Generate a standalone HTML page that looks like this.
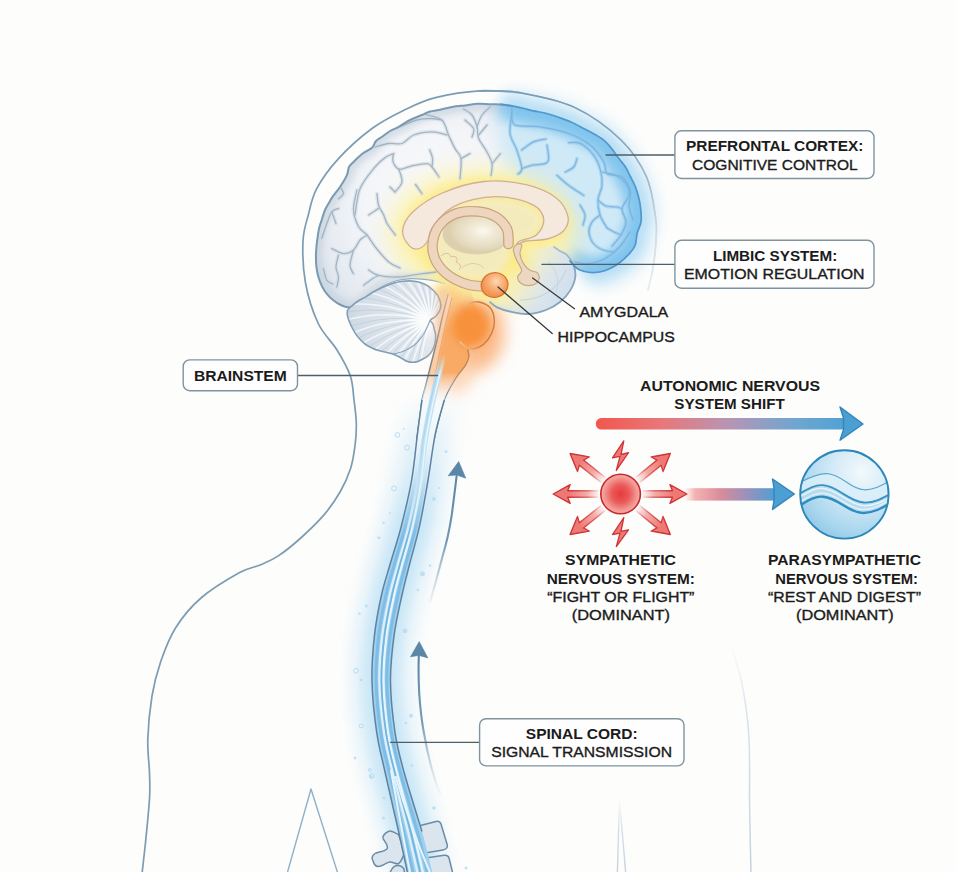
<!DOCTYPE html>
<html>
<head>
<meta charset="utf-8">
<title>Brain and Autonomic Nervous System</title>
<style>
  html, body { margin: 0; padding: 0; background: #fdfdfc; }
  body { width: 956px; height: 872px; overflow: hidden; font-family: "Liberation Sans", sans-serif; }
  svg { display: block; }
  text { font-family: "Liberation Sans", sans-serif; fill: #1b1b1b; }
  .b { font-weight: bold; }
  .r { stroke: #1b1b1b; stroke-width: 0.35px; }
</style>
</head>
<body>
<svg width="956" height="872" viewBox="0 0 956 872">
<defs>
<filter id="blur1" x="-100%" y="-100%" width="300%" height="300%"><feGaussianBlur stdDeviation="1"/></filter>
<filter id="blur2" x="-100%" y="-100%" width="300%" height="300%"><feGaussianBlur stdDeviation="2"/></filter>
<filter id="blur3" x="-100%" y="-100%" width="300%" height="300%"><feGaussianBlur stdDeviation="3"/></filter>
<filter id="blur4" x="-100%" y="-100%" width="300%" height="300%"><feGaussianBlur stdDeviation="4"/></filter>
<filter id="blur5" x="-100%" y="-100%" width="300%" height="300%"><feGaussianBlur stdDeviation="5"/></filter>
<filter id="blur6" x="-100%" y="-100%" width="300%" height="300%"><feGaussianBlur stdDeviation="6"/></filter>
<filter id="blur8" x="-100%" y="-100%" width="300%" height="300%"><feGaussianBlur stdDeviation="8"/></filter>
<filter id="blur10" x="-100%" y="-100%" width="300%" height="300%"><feGaussianBlur stdDeviation="10"/></filter>
<filter id="blur12" x="-100%" y="-100%" width="300%" height="300%"><feGaussianBlur stdDeviation="12"/></filter>
<linearGradient id="headFade" gradientUnits="userSpaceOnUse" x1="560" y1="100" x2="680" y2="280">
  <stop offset="0" stop-color="#7b9cb3"/><stop offset="0.35" stop-color="#8aa8bf"/><stop offset="0.55" stop-color="#a5bbcc"/><stop offset="0.75" stop-color="#cfdae3"/><stop offset="1" stop-color="#eef2f5"/></linearGradient>
<linearGradient id="gFaintR" gradientUnits="userSpaceOnUse" x1="0" y1="640" x2="0" y2="872"><stop offset="0" stop-color="#dfe8ee" stop-opacity="0"/><stop offset="0.3" stop-color="#d9e3eb"/><stop offset="1" stop-color="#c3d3df"/></linearGradient>
<linearGradient id="gFaintV" gradientUnits="userSpaceOnUse" x1="0" y1="798" x2="0" y2="872"><stop offset="0" stop-color="#dfe8ee" stop-opacity="0"/><stop offset="0.4" stop-color="#d5e1ea"/><stop offset="1" stop-color="#c3d3df"/></linearGradient>
<linearGradient id="gM2" gradientUnits="userSpaceOnUse" x1="0" y1="395" x2="0" y2="540"><stop offset="0" stop-color="#fff" stop-opacity="0"/><stop offset="0.35" stop-color="#fff" stop-opacity="0.3"/><stop offset="0.7" stop-color="#fff" stop-opacity="0.8"/><stop offset="1" stop-color="#fff" stop-opacity="1"/></linearGradient>
<mask id="mCordBlue" maskUnits="userSpaceOnUse" x="300" y="340" width="220" height="540"><rect x="300" y="340" width="220" height="540" fill="url(#gM2)"/></mask>
<linearGradient id="gM3" gradientUnits="userSpaceOnUse" x1="0" y1="392" x2="0" y2="520"><stop offset="0" stop-color="#fff" stop-opacity="0"/><stop offset="0.4" stop-color="#fff" stop-opacity="0.5"/><stop offset="1" stop-color="#fff" stop-opacity="1"/></linearGradient>
<mask id="mGlow" maskUnits="userSpaceOnUse" x="280" y="340" width="260" height="540"><rect x="280" y="340" width="260" height="540" fill="url(#gM3)"/></mask>
<linearGradient id="gArrU" gradientUnits="userSpaceOnUse" x1="0" y1="470" x2="0" y2="610">
  <stop offset="0" stop-color="#5b86a6"/><stop offset="0.5" stop-color="#6f95b2"/><stop offset="1" stop-color="#9fb8cc" stop-opacity="0"/></linearGradient>
<linearGradient id="gArrL" gradientUnits="userSpaceOnUse" x1="0" y1="650" x2="0" y2="800">
  <stop offset="0" stop-color="#5b86a6"/><stop offset="0.5" stop-color="#7a9cb6"/><stop offset="1" stop-color="#b5c8d8" stop-opacity="0"/></linearGradient>
<linearGradient id="gM1" gradientUnits="userSpaceOnUse" x1="0" y1="372" x2="0" y2="532"><stop offset="0" stop-color="#fff" stop-opacity="0"/><stop offset="0.2" stop-color="#fff" stop-opacity="1"/><stop offset="0.4" stop-color="#fff" stop-opacity="0.9"/><stop offset="1" stop-color="#fff" stop-opacity="0"/></linearGradient>
<mask id="mCordPale" maskUnits="userSpaceOnUse" x="300" y="340" width="220" height="540"><rect x="300" y="340" width="220" height="540" fill="url(#gM1)"/></mask>
<linearGradient id="gM4" gradientUnits="userSpaceOnUse" x1="0" y1="354" x2="0" y2="544"><stop offset="0" stop-color="#fff" stop-opacity="0"/><stop offset="0.115" stop-color="#fff" stop-opacity="1"/><stop offset="0.5" stop-color="#fff" stop-opacity="0.9"/><stop offset="1" stop-color="#fff" stop-opacity="0"/></linearGradient>
<mask id="mStripe" maskUnits="userSpaceOnUse" x="300" y="340" width="220" height="540"><rect x="300" y="340" width="220" height="540" fill="url(#gM4)"/></mask>
<path id="pCere" d="M355.0 307.0 C351.1 307.8 346.5 307.7 341.8 305.5 C337.1 303.3 330.7 298.6 326.8 293.8 C322.9 289.1 320.2 283.1 318.4 277.0 C316.6 270.9 315.9 264.5 315.9 257.0 C315.9 249.5 317.4 238.1 318.4 231.8 C319.4 225.5 320.9 222.6 322.0 219.0 C323.1 215.4 323.7 213.0 325.0 210.0 C326.3 207.0 328.6 203.4 330.0 201.0 C331.4 198.6 331.8 197.7 333.5 195.4 C335.2 193.1 337.8 190.3 340.0 187.0 C342.2 183.7 345.3 178.6 346.8 175.3 C348.3 172.0 347.9 169.2 349.0 167.0 C350.1 164.8 351.3 164.2 353.5 162.0 C355.7 159.8 358.9 156.4 362.0 154.0 C365.1 151.6 369.7 149.9 372.0 147.7 C374.3 145.5 374.3 142.8 376.0 141.0 C377.7 139.2 379.7 138.5 382.0 136.8 C384.3 135.1 387.2 132.7 390.0 131.0 C392.8 129.3 395.4 128.6 398.7 126.8 C402.0 125.0 406.1 122.0 410.0 120.0 C413.9 118.0 418.7 116.4 422.0 115.0 C425.3 113.6 427.2 112.3 430.0 111.5 C432.8 110.7 435.3 110.8 439.0 110.0 C442.7 109.2 447.7 107.8 452.0 107.0 C456.3 106.2 460.7 105.9 465.0 105.4 C469.3 104.9 473.8 104.0 478.0 103.8 C482.2 103.6 486.2 104.1 490.0 104.2 C493.8 104.3 497.4 104.1 501.0 104.4 C504.6 104.7 508.3 105.3 511.8 105.9 C515.3 106.5 518.4 107.2 522.0 108.0 C525.6 108.8 529.7 110.1 533.5 110.9 C537.3 111.7 541.1 112.0 545.0 113.0 C548.9 114.0 552.7 115.3 557.0 116.8 C561.3 118.3 566.5 120.0 571.0 122.0 C575.5 124.0 579.9 126.5 583.7 128.5 C587.5 130.5 590.6 132.1 594.0 134.0 C597.4 135.9 600.8 137.7 603.8 140.2 C606.8 142.7 609.5 145.9 612.0 149.0 C614.5 152.1 616.6 155.6 618.9 158.6 C621.1 161.6 623.5 163.9 625.5 167.0 C627.5 170.1 628.9 173.7 630.6 177.0 C632.3 180.3 634.1 183.4 635.5 187.0 C636.9 190.6 638.1 195.0 639.0 198.8 C639.9 202.6 640.5 206.1 640.8 210.0 C641.1 213.9 641.6 218.2 641.0 222.0 C640.4 225.8 638.2 229.1 637.2 233.0 C636.2 236.9 636.4 242.2 635.0 245.7 C633.6 249.2 631.4 251.3 629.0 254.0 C626.6 256.7 623.3 259.8 620.5 262.0 C617.7 264.2 614.8 266.0 612.0 267.5 C609.2 269.0 606.6 270.2 603.8 271.0 C601.0 271.8 597.8 272.3 595.0 272.5 C592.2 272.7 589.5 272.4 587.0 272.0 C584.5 271.6 582.0 270.8 580.0 270.0 C578.0 269.2 576.0 266.7 575.3 267.0 C574.6 267.3 576.0 270.3 576.0 272.0 C576.0 273.7 576.2 273.9 575.3 277.0 C574.3 280.1 572.8 286.2 570.3 290.4 C567.8 294.6 564.0 298.7 560.0 302.0 C556.0 305.3 551.3 308.0 546.0 310.0 C540.7 312.0 534.0 313.8 528.0 314.0 C522.0 314.2 515.2 312.7 510.0 311.5 C504.8 310.3 500.7 308.8 497.0 307.0 C493.3 305.2 492.5 302.7 488.0 301.0 C483.5 299.3 475.5 298.5 470.0 297.0 C464.5 295.5 459.3 294.2 455.0 292.0 C450.7 289.8 447.8 285.6 444.0 283.7 C440.2 281.8 437.3 281.2 432.0 280.4 C426.7 279.6 418.1 278.6 412.0 278.7 C405.9 278.8 401.0 279.3 395.4 281.0 C389.8 282.7 383.7 285.4 378.6 288.7 C373.5 291.9 368.9 297.4 365.0 300.5 C361.1 303.6 358.9 306.2 355.0 307.0Z"/>
<path id="pCereb" d="M347.6 310.2 C348.3 308.8 349.6 307.9 351.3 306.4 C353.0 304.9 355.5 302.7 358.0 301.0 C360.5 299.3 363.6 298.1 366.4 296.4 C369.2 294.7 371.9 292.7 375.0 291.0 C378.1 289.3 382.0 287.6 385.2 286.3 C388.4 285.0 391.1 283.8 394.0 283.0 C396.9 282.2 399.8 281.6 402.8 281.3 C405.8 281.0 409.1 280.8 412.0 281.0 C414.9 281.2 417.7 281.8 420.4 282.6 C423.1 283.4 425.7 284.6 428.0 286.0 C430.3 287.4 432.4 289.5 434.2 291.3 C435.9 293.1 437.5 295.1 438.5 297.0 C439.5 298.9 440.0 300.9 440.4 302.6 C440.8 304.3 441.0 305.5 440.8 307.0 C440.6 308.5 440.1 309.8 439.2 311.4 C438.3 313.0 437.0 315.0 435.5 316.5 C434.0 318.0 430.8 318.9 430.4 320.2 C430.0 321.4 432.4 322.5 433.0 324.0 C433.6 325.5 433.8 327.2 434.2 329.0 C434.6 330.8 435.4 332.6 435.6 334.5 C435.8 336.4 435.6 338.4 435.4 340.3 C435.2 342.2 434.8 344.1 434.2 346.0 C433.6 347.9 432.6 350.0 431.6 351.6 C430.6 353.2 429.4 354.6 428.0 355.8 C426.6 357.0 424.6 358.1 422.9 359.0 C421.2 359.9 419.7 360.9 418.0 361.5 C416.3 362.1 414.6 362.3 412.8 362.3 C411.1 362.3 409.2 362.1 407.5 361.5 C405.8 360.9 404.4 359.9 402.8 359.0 C401.2 358.1 399.7 357.1 398.0 356.3 C396.3 355.5 394.9 354.7 392.7 354.0 C390.5 353.3 387.5 352.6 385.0 352.0 C382.5 351.4 380.0 351.1 377.7 350.3 C375.4 349.6 373.1 348.6 371.0 347.5 C368.9 346.4 366.9 345.4 365.0 344.0 C363.1 342.6 361.2 340.7 359.5 338.8 C357.8 336.9 356.3 334.9 355.0 332.8 C353.7 330.8 352.5 328.6 351.5 326.5 C350.5 324.4 349.5 322.1 348.8 320.2 C348.1 318.3 347.5 316.7 347.3 315.0 C347.1 313.3 346.9 311.6 347.6 310.2Z"/>
<path id="pTemp" d="M552.0 246.0 C557.3 245.8 554.5 247.1 557.0 248.6 C559.5 250.1 564.2 252.2 567.0 255.0 C569.8 257.8 572.2 261.6 573.6 265.3 C575.0 269.0 575.8 272.8 575.3 277.0 C574.8 281.2 572.8 286.2 570.3 290.4 C567.8 294.6 564.0 298.7 560.0 302.0 C556.0 305.3 551.3 308.0 546.0 310.0 C540.7 312.0 534.0 313.8 528.0 314.0 C522.0 314.2 515.2 312.7 510.0 311.5 C504.8 310.3 500.7 308.9 497.0 307.0 C493.3 305.1 489.8 304.5 488.0 300.0 C486.2 295.5 484.0 286.3 486.0 280.0 C488.0 273.7 493.5 267.0 500.0 262.0 C506.5 257.0 516.3 252.7 525.0 250.0 C533.7 247.3 546.7 246.2 552.0 246.0Z"/>
<path id="pOutBlue" d="M501.0 104.4 C502.8 104.7 508.3 105.3 511.8 105.9 C515.3 106.5 518.4 107.2 522.0 108.0 C525.6 108.8 529.7 110.1 533.5 110.9 C537.3 111.7 541.1 112.0 545.0 113.0 C548.9 114.0 552.7 115.3 557.0 116.8 C561.3 118.3 566.5 120.0 571.0 122.0 C575.5 124.0 579.9 126.5 583.7 128.5 C587.5 130.5 590.6 132.1 594.0 134.0 C597.4 135.9 600.8 137.7 603.8 140.2 C606.8 142.7 609.5 145.9 612.0 149.0 C614.5 152.1 616.6 155.6 618.9 158.6 C621.1 161.6 623.5 163.9 625.5 167.0 C627.5 170.1 628.9 173.7 630.6 177.0 C632.3 180.3 634.1 183.4 635.5 187.0 C636.9 190.6 638.1 195.0 639.0 198.8 C639.9 202.6 640.5 206.1 640.8 210.0 C641.1 213.9 641.6 218.2 641.0 222.0 C640.4 225.8 638.2 229.1 637.2 233.0 C636.2 236.9 636.4 242.2 635.0 245.7 C633.6 249.2 631.4 251.3 629.0 254.0 C626.6 256.7 623.3 259.8 620.5 262.0 C617.7 264.2 614.8 266.0 612.0 267.5 C609.2 269.0 606.6 270.2 603.8 271.0 C601.0 271.8 597.8 272.3 595.0 272.5 C592.2 272.7 589.5 272.4 587.0 272.0 C584.5 271.6 582.0 270.8 580.0 270.0 C578.0 269.2 577.0 268.5 575.3 267.0 C573.6 265.5 570.9 262.0 570.0 261.0"/>
<clipPath id="cCere"><use href="#pCere"/></clipPath>
<clipPath id="cCereb"><use href="#pCereb"/></clipPath>
<clipPath id="cTemp"><use href="#pTemp"/></clipPath>
<radialGradient id="gCere" gradientUnits="userSpaceOnUse" cx="440" cy="205" r="150">
  <stop offset="0" stop-color="#fafbfc"/><stop offset="0.5" stop-color="#f3f5f8"/><stop offset="0.8" stop-color="#e6ebf1"/><stop offset="1" stop-color="#d5dee7"/></radialGradient>
<radialGradient id="gCereb" gradientUnits="userSpaceOnUse" cx="428" cy="320" r="85">
  <stop offset="0" stop-color="#f0f4f7"/><stop offset="0.35" stop-color="#e0e7ee"/><stop offset="0.8" stop-color="#d3dde7"/><stop offset="1" stop-color="#c8d5e0"/></radialGradient>
<radialGradient id="gThal" gradientUnits="userSpaceOnUse" cx="483" cy="231" r="34" gradientTransform="translate(483 231) scale(1 0.62) translate(-483 -231)">
  <stop offset="0" stop-color="#fbf8ee"/><stop offset="0.35" stop-color="#f0ead6"/><stop offset="0.8" stop-color="#e4dabd"/><stop offset="1" stop-color="#dccfae"/></radialGradient>
<radialGradient id="gHippo" gradientUnits="userSpaceOnUse" cx="497" cy="282" r="14">
  <stop offset="0" stop-color="#fdd9b2"/><stop offset="0.5" stop-color="#f9b27a"/><stop offset="1" stop-color="#f39452"/></radialGradient>
<linearGradient id="gMed" gradientUnits="userSpaceOnUse" x1="0" y1="288" x2="0" y2="428">
  <stop offset="0" stop-color="#f9c27a" stop-opacity="0"/><stop offset="0.13" stop-color="#f9b876" stop-opacity="0.8"/><stop offset="0.3" stop-color="#f8aa66"/>
  <stop offset="0.6" stop-color="#f9aa64"/><stop offset="0.72" stop-color="#fbc59c" stop-opacity="0.8"/><stop offset="0.82" stop-color="#fde3d0" stop-opacity="0.3"/><stop offset="0.9" stop-color="#fdeee2" stop-opacity="0"/></linearGradient>
<mask id="mBlue" maskUnits="userSpaceOnUse" x="300" y="60" width="420" height="280">
  <path d="M505 80 C492 125 500 150 512 175 C525 198 550 215 560 240 C566 252 572 262 580 272 L592 300 L720 300 L720 60 Z" fill="#fff" filter="url(#blur8)"/></mask>
<linearGradient id="gMedLine" gradientUnits="userSpaceOnUse" x1="0" y1="345" x2="0" y2="440">
  <stop offset="0" stop-color="#cf7a3d"/><stop offset="0.3" stop-color="#b98260"/><stop offset="0.48" stop-color="#7f8793"/><stop offset="0.58" stop-color="#5f829f"/><stop offset="1" stop-color="#5f829f"/></linearGradient>
<linearGradient id="gStemLine" gradientUnits="userSpaceOnUse" x1="0" y1="294" x2="0" y2="440">
  <stop offset="0" stop-color="#d2b49a"/><stop offset="0.25" stop-color="#a8958c"/><stop offset="0.42" stop-color="#7d8790"/><stop offset="0.7" stop-color="#5f829f"/><stop offset="1" stop-color="#5f829f"/></linearGradient>
<linearGradient id="gTemp" gradientUnits="userSpaceOnUse" x1="518" y1="258" x2="568" y2="286"><stop offset="0" stop-color="#e6eaea" stop-opacity="0"/><stop offset="0.4" stop-color="#e0e8ea" stop-opacity="0.6"/><stop offset="0.8" stop-color="#d7e3ed" stop-opacity="1"/><stop offset="1" stop-color="#d3e1ec" stop-opacity="1"/></linearGradient>
<linearGradient id="gTempEdge" gradientUnits="userSpaceOnUse" x1="0" y1="246" x2="0" y2="275"><stop offset="0" stop-color="#a9c0d4"/><stop offset="1" stop-color="#83a3be"/></linearGradient>
<linearGradient id="gPonsLine" gradientUnits="userSpaceOnUse" x1="458" y1="0" x2="480" y2="0">
  <stop offset="0" stop-color="#fbd9bd" stop-opacity="0.7"/><stop offset="1" stop-color="#cf7a3d"/></linearGradient>
<filter id="blurS" x="-20%" y="-20%" width="140%" height="140%"><feGaussianBlur stdDeviation="0.7"/></filter>
<linearGradient id="gCerebOut" gradientUnits="userSpaceOnUse" x1="420" y1="0" x2="442" y2="0"><stop offset="0" stop-color="#809eb5"/><stop offset="1" stop-color="#b6a79f"/></linearGradient>
<linearGradient id="gArrow1" gradientUnits="userSpaceOnUse" x1="596" y1="0" x2="862" y2="0">
  <stop offset="0" stop-color="#f2564e"/><stop offset="0.25" stop-color="#e8787a"/><stop offset="0.5" stop-color="#b795b4"/><stop offset="0.75" stop-color="#6fa6d0"/><stop offset="1" stop-color="#46a0d6"/></linearGradient>
<linearGradient id="gArrow2" gradientUnits="userSpaceOnUse" x1="684" y1="0" x2="775" y2="0">
  <stop offset="0" stop-color="#f6b3b0" stop-opacity="0"/><stop offset="0.12" stop-color="#f2aaa9" stop-opacity="0.9"/><stop offset="0.4" stop-color="#d98c9a"/><stop offset="0.65" stop-color="#a390b8"/><stop offset="1" stop-color="#4f9fd4"/></linearGradient>
<radialGradient id="gSun" cx="0.5" cy="0.5" r="0.5">
  <stop offset="0" stop-color="#e63a3c"/><stop offset="0.45" stop-color="#ea5b59"/><stop offset="0.85" stop-color="#f39c97"/><stop offset="1" stop-color="#f4aaa5"/></radialGradient>
<radialGradient id="gSph" gradientUnits="userSpaceOnUse" cx="862" cy="472" r="75">
  <stop offset="0" stop-color="#f2f9fc"/><stop offset="0.4" stop-color="#d3eaf6"/><stop offset="0.8" stop-color="#a9d6ee"/><stop offset="1" stop-color="#8fc8e8"/></radialGradient>
<clipPath id="cSph"><circle cx="844.4" cy="494.4" r="44"/></clipPath>
<linearGradient id="gRay" gradientUnits="userSpaceOnUse" x1="20" y1="0" x2="52" y2="0">
  <stop offset="0" stop-color="#f4a9a5" stop-opacity="0"/><stop offset="0.45" stop-color="#f29b97" stop-opacity="0.85"/><stop offset="1" stop-color="#ee7873"/></linearGradient>
<linearGradient id="gRayS" gradientUnits="userSpaceOnUse" x1="20" y1="0" x2="52" y2="0">
  <stop offset="0" stop-color="#d94848" stop-opacity="0"/><stop offset="0.4" stop-color="#d64444" stop-opacity="0.7"/><stop offset="1" stop-color="#cf3436"/></linearGradient>
</defs>
<rect x="0" y="0" width="956" height="872" fill="#fdfdfc"/>
<g id="body" fill="none" stroke-linecap="round" stroke-linejoin="round">
<path d="M479.5 90.8 C486.2 91.1 504.1 89.9 520.0 92.7 C535.9 95.5 558.2 99.7 575.0 107.6 C591.8 115.5 609.1 128.5 621.0 140.0 C632.9 151.5 640.6 163.7 646.4 176.7 C652.2 189.7 654.0 207.4 655.6 218.0 C657.2 228.6 656.4 231.7 656.0 240.0 C655.6 248.3 654.3 259.7 653.0 268.0 C651.7 276.3 648.8 286.3 648.0 290.0" stroke="url(#headFade)" stroke-width="1.6"/>
<path d="M520.0 92.7 C513.2 92.4 493.6 90.0 479.5 90.8 C465.4 91.6 447.9 94.5 435.5 97.6 C423.1 100.7 416.0 104.3 405.4 109.5 C394.8 114.7 383.1 120.3 372.0 128.5 C360.9 136.7 347.7 148.6 338.5 158.6 C329.3 168.6 321.7 179.3 316.7 188.7 C311.7 198.1 310.6 206.3 308.3 215.0 C306.0 223.7 303.5 229.7 303.0 241.0 C302.5 252.3 303.0 269.3 305.5 283.0 C308.0 296.7 312.8 311.8 318.0 323.0 C323.2 334.2 331.6 341.2 337.0 350.0 C342.4 358.8 347.6 367.7 350.4 376.0 C353.2 384.3 353.0 392.2 354.0 400.0 C355.0 407.8 356.1 415.4 356.3 423.0 C356.5 430.6 356.0 438.2 355.0 445.8 C354.0 453.4 353.0 461.2 350.5 468.8 C348.0 476.4 344.6 484.1 340.2 491.7 C335.8 499.3 330.7 507.0 324.2 514.6 C317.7 522.2 308.9 530.6 301.3 537.5 C293.7 544.4 285.2 551.3 278.3 555.9 C271.4 560.5 266.4 562.2 260.0 565.0 C253.6 567.8 249.4 567.1 239.6 572.6 C229.8 578.1 211.7 588.8 201.0 598.0 C190.3 607.2 182.2 617.3 175.5 628.0 C168.8 638.7 164.5 650.7 160.6 662.0 C156.7 673.3 154.1 683.2 152.0 696.0 C149.9 708.8 148.2 726.2 147.8 739.0 C147.4 751.8 149.2 763.0 149.5 773.0 C149.8 783.0 150.2 787.6 149.5 799.0 C148.8 810.4 146.8 829.1 145.6 841.6 C144.3 854.1 142.6 868.6 142.0 874.0" stroke="#7b9cb3" stroke-width="1.7"/>
<path d="M287 874 L311 789 L338 874" stroke="#8fb0c8" stroke-width="1.4"/>
<path d="M729.5 643 C734 655 738.5 668 741 679 C745.5 700 748 720 749 738 C750 760 749.5 780 749.5 797 C749.8 825 750.5 850 751 874" stroke="url(#gFaintR)" stroke-width="1.5"/>
<path d="M617.3 874 L619.5 800 L625.8 874" stroke="url(#gFaintV)" stroke-width="1.4"/>
</g>
<g id="spine">
<g mask="url(#mGlow)">
<path d="M444.2 372.0 C443.2 374.3 439.9 381.3 438.0 386.0 C436.1 390.7 435.1 391.9 433.1 400.0 C431.2 408.1 428.5 421.0 426.3 434.4 C424.1 447.8 422.4 465.0 419.8 480.3 C417.2 495.6 413.8 512.0 410.4 526.2 C407.0 540.4 402.7 553.8 399.6 565.3 C396.4 576.8 394.3 583.2 391.8 595.0 C389.2 606.8 385.9 621.4 384.2 635.9 C382.4 650.4 381.0 665.7 381.2 681.8 C381.5 697.9 383.6 717.3 385.9 732.3 C388.1 747.3 390.4 755.5 394.5 772.0 C398.6 788.5 406.0 814.3 410.3 831.5 C414.6 848.7 418.8 867.8 420.5 875.0" fill="none" stroke="#cae7f7" stroke-width="58" opacity="0.62" filter="url(#blur8)"/>
<path d="M444.2 372.0 C443.2 374.3 439.9 381.3 438.0 386.0 C436.1 390.7 435.1 391.9 433.1 400.0 C431.2 408.1 428.5 421.0 426.3 434.4 C424.1 447.8 422.4 465.0 419.8 480.3 C417.2 495.6 413.8 512.0 410.4 526.2 C407.0 540.4 402.7 553.8 399.6 565.3 C396.4 576.8 394.3 583.2 391.8 595.0 C389.2 606.8 385.9 621.4 384.2 635.9 C382.4 650.4 381.0 665.7 381.2 681.8 C381.5 697.9 383.6 717.3 385.9 732.3 C388.1 747.3 390.4 755.5 394.5 772.0 C398.6 788.5 406.0 814.3 410.3 831.5 C414.6 848.7 418.8 867.8 420.5 875.0" fill="none" stroke="#b4ddf4" stroke-width="34" opacity="0.5" filter="url(#blur5)"/>
</g>
<g fill="#dbe5ee" stroke="#6c8ba6" stroke-width="1.5" stroke-linejoin="round">
<path d="M420.5 825.6 L436 821.5 Q439.5 820.5 441 824 L447.3 845 Q448 849 443 849.9 L413 855 L404.4 852 L398.6 834.4 Z"/>
<path d="M398.6 834.4 C395 833.5 391 829 388.3 831.5 C384 833.5 382 837 383.2 838.8 C385.5 843 389 846 386.9 849 C383 852.5 378 851.5 375 853.5 C371.5 856 371.5 859 373 860.8 C374 864.5 376 866.5 378 866.6 C382.5 866.5 386 862.5 389.8 862 C393 861.8 396 864.5 398.6 863.7 C401.5 861 403.5 856 404.4 852 Z"/>
<path d="M416 859.5 L444 855.3 Q448 854.8 449 858 L453.5 876 L412 876 Z"/>
<path d="M394 866.6 C398 864 402 866 404 869 L405 876 L389 876 C390 872 391 869 394 866.6 Z"/>
</g>
<g mask="url(#mCordBlue)">
<path d="M428.0 372.0 C427.5 374.3 426.0 381.3 425.0 386.0 C424.0 390.7 423.3 391.9 422.0 400.0 C420.7 408.1 419.1 421.0 417.4 434.4 C415.7 447.8 414.3 465.0 411.6 480.3 C408.9 495.6 404.9 512.0 401.3 526.2 C397.7 540.4 393.1 553.8 389.8 565.3 C386.5 576.8 384.1 583.2 381.5 595.0 C378.9 606.8 376.0 621.4 374.4 635.9 C372.8 650.4 371.6 665.7 372.0 681.8 C372.4 697.9 374.5 717.3 376.7 732.3 C378.9 747.3 381.4 755.5 385.0 772.0 C388.6 788.5 394.8 814.3 398.6 831.5 C402.4 848.7 406.4 867.8 408.0 875.0 L433.0 875.0 C431.2 867.8 426.8 848.7 422.0 831.5 C417.2 814.3 408.5 788.5 404.0 772.0 C399.5 755.5 397.2 747.3 395.0 732.3 C392.8 717.3 390.7 697.9 390.5 681.8 C390.3 665.7 392.1 650.4 394.0 635.9 C395.9 621.4 399.4 606.8 402.0 595.0 C404.6 583.2 406.4 576.8 409.3 565.3 C412.2 553.8 416.4 540.4 419.5 526.2 C422.6 512.0 425.4 495.6 428.0 480.3 C430.6 465.0 432.5 447.8 435.2 434.4 C437.9 421.0 441.7 408.1 444.3 400.0 C446.9 391.9 448.3 390.7 451.0 386.0 C453.7 381.3 458.9 374.3 460.5 372.0 Z" fill="#9fd0ee"/>
<path d="M435.1 372.0 C434.4 374.3 432.1 381.3 430.7 386.0 C429.3 390.7 428.5 391.9 426.9 400.0 C425.3 408.1 423.3 421.0 421.3 434.4 C419.4 447.8 417.9 465.0 415.2 480.3 C412.5 495.6 408.8 512.0 405.3 526.2 C401.8 540.4 397.3 553.8 394.1 565.3 C390.9 576.8 388.6 583.2 386.0 595.0 C383.4 606.8 380.4 621.4 378.7 635.9 C377.1 650.4 375.7 665.7 376.1 681.8 C376.4 697.9 378.5 717.3 380.7 732.3 C382.9 747.3 385.3 755.5 389.2 772.0 C393.0 788.5 399.7 814.3 403.7 831.5 C407.8 848.7 411.9 867.8 413.5 875.0" fill="none" stroke="#7dbde6" stroke-width="3" />
<path d="M454.0 372.0 C452.6 374.3 448.2 381.3 445.8 386.0 C443.4 390.7 442.2 391.9 439.8 400.0 C437.5 408.1 434.2 421.0 431.6 434.4 C429.1 447.8 427.4 465.0 424.7 480.3 C422.1 495.6 419.1 512.0 415.9 526.2 C412.6 540.4 408.4 553.8 405.4 565.3 C402.4 576.8 400.5 583.2 397.9 595.0 C395.3 606.8 391.9 621.4 390.1 635.9 C388.2 650.4 386.6 665.7 386.8 681.8 C387.0 697.9 389.1 717.3 391.3 732.3 C393.6 747.3 395.9 755.5 400.2 772.0 C404.5 788.5 412.7 814.3 417.3 831.5 C422.0 848.7 426.2 867.8 428.0 875.0" fill="none" stroke="#7dbde6" stroke-width="3" />
<path d="M441.0 372.0 C440.1 374.3 437.1 381.3 435.4 386.0 C433.7 390.7 432.7 391.9 430.9 400.0 C429.1 408.1 426.6 421.0 424.5 434.4 C422.4 447.8 420.8 465.0 418.2 480.3 C415.5 495.6 412.0 512.0 408.6 526.2 C405.2 540.4 400.7 553.8 397.6 565.3 C394.5 576.8 392.3 583.2 389.7 595.0 C387.1 606.8 384.0 621.4 382.2 635.9 C380.5 650.4 379.1 665.7 379.4 681.8 C379.7 697.9 381.8 717.3 384.0 732.3 C386.2 747.3 388.6 755.5 392.6 772.0 C396.6 788.5 403.7 814.3 408.0 831.5 C412.2 848.7 416.3 867.8 418.0 875.0" fill="none" stroke="#dff0fa" stroke-width="2.2"/>
<path d="M448.1 372.0 C447.0 374.3 443.2 381.3 441.1 386.0 C439.1 390.7 437.9 391.9 435.8 400.0 C433.7 408.1 430.8 421.0 428.4 434.4 C426.1 447.8 424.4 465.0 421.8 480.3 C419.1 495.6 415.9 512.0 412.6 526.2 C409.3 540.4 405.0 553.8 401.9 565.3 C398.8 576.8 396.8 583.2 394.2 595.0 C391.7 606.8 388.3 621.4 386.6 635.9 C384.8 650.4 383.2 665.7 383.5 681.8 C383.7 697.9 385.8 717.3 388.0 732.3 C390.3 747.3 392.6 755.5 396.8 772.0 C401.0 788.5 408.7 814.3 413.1 831.5 C417.6 848.7 421.8 867.8 423.5 875.0" fill="none" stroke="#e8f5fc" stroke-width="2.2"/>
<path d="M444.6 372.0 C443.5 374.3 440.1 381.3 438.3 386.0 C436.4 390.7 435.3 391.9 433.4 400.0 C431.4 408.1 428.7 421.0 426.5 434.4 C424.2 447.8 422.6 465.0 420.0 480.3 C417.3 495.6 414.0 512.0 410.6 526.2 C407.2 540.4 402.8 553.8 399.7 565.3 C396.6 576.8 394.5 583.2 392.0 595.0 C389.4 606.8 386.1 621.4 384.4 635.9 C382.6 650.4 381.2 665.7 381.4 681.8 C381.7 697.9 383.8 717.3 386.0 732.3 C388.2 747.3 390.6 755.5 394.7 772.0 C398.8 788.5 406.2 814.3 410.5 831.5 C414.9 848.7 419.0 867.8 420.8 875.0" fill="none" stroke="#6fb5e2" stroke-width="1.6"/>
<path d="M391 770 C396 800 404 840 410.5 875" fill="none" stroke="#e6f4fb" stroke-width="2"/>
<path d="M395.5 776 C404 805 418 845 431 875" fill="none" stroke="#e6f4fb" stroke-width="2"/>
</g>
<g fill="none" stroke="#a9d6f0" stroke-width="0.9" opacity="0.9"><circle cx="397.4" cy="434.9" r="2.4"/><circle cx="407.0" cy="447.7" r="2.4"/><circle cx="394.0" cy="488.4" r="2.4"/><circle cx="356.0" cy="670.8" r="2.4"/><circle cx="361.3" cy="725.9" r="2.0"/><circle cx="371.7" cy="776.0" r="2.4"/><circle cx="369.8" cy="770.0" r="1.5"/></g>
<g fill="#b5ddf3" opacity="0.85"><circle cx="403.6" cy="428.7" r="1.0"/><circle cx="389.8" cy="513.0" r="1.0"/><circle cx="383.6" cy="522.8" r="1.2"/><circle cx="378.8" cy="537.7" r="1.5"/><circle cx="446.0" cy="451.6" r="1.5"/><circle cx="433.9" cy="499.0" r="2.0"/><circle cx="439.0" cy="488.0" r="1.0"/><circle cx="422.4" cy="573.7" r="2.5"/><circle cx="430.0" cy="565.7" r="1.2"/><circle cx="417.8" cy="590.0" r="1.2"/><circle cx="366.4" cy="606.0" r="1.6"/><circle cx="359.5" cy="613.6" r="1.3"/><circle cx="405.0" cy="630.9" r="2.4"/><circle cx="361.0" cy="680.0" r="1.5"/><circle cx="411.0" cy="715.8" r="2.0"/><circle cx="406.0" cy="723.0" r="1.2"/><circle cx="355.0" cy="758.0" r="1.4"/><circle cx="411.6" cy="765.6" r="1.4"/><circle cx="371.0" cy="776.5" r="1.5"/><circle cx="384.0" cy="798.0" r="1.5"/><circle cx="434.0" cy="808.0" r="1.8"/><circle cx="383.5" cy="818.0" r="1.6"/><circle cx="466.0" cy="868.0" r="1.5"/></g>
<path d="M456.6 476 C455 490 453 505 451.8 514.7 C449 533 446 545 442.6 556 C439 570 435 585 430 602" fill="none" stroke="url(#gArrU)" stroke-width="2.1" stroke-linecap="round"/>
<path d="M458.7 461.5 L465.8 478.2 L456.6 475 L448.2 475.8 Z" fill="#5b86a6" stroke="#5b86a6" stroke-width="0.6" stroke-linejoin="round"/>
<path d="M418.8 656 C418.3 670 418.6 682 419.2 693.3 C420.2 708 421.5 720 423.8 732.3 C426 745 428.5 757 431.8 769 C434 778 437.5 788 441.5 797" fill="none" stroke="url(#gArrL)" stroke-width="2.1" stroke-linecap="round"/>
<path d="M419.2 641.6 L427.9 657.9 L418.9 655.4 L410.5 656.8 Z" fill="#5b86a6" stroke="#5b86a6" stroke-width="0.6" stroke-linejoin="round"/>
</g>
<g id="brain">
<g mask="url(#mBlue)">
<use href="#pOutBlue" fill="none" stroke="#c3e4f6" stroke-width="30" stroke-linecap="round" filter="url(#blur8)" opacity="0.85"/>
<use href="#pOutBlue" fill="none" stroke="#b2dcf4" stroke-width="14" stroke-linecap="round" filter="url(#blur5)" opacity="0.7"/>
</g>
<ellipse cx="474" cy="332" rx="31" ry="40" fill="#fbb580" opacity="0.9" filter="url(#blur8)"/>
<ellipse cx="456" cy="370" rx="18" ry="24" fill="#fcc9a0" opacity="0.7" filter="url(#blur8)"/>
<use href="#pCere" fill="url(#gCere)"/>
<g clip-path="url(#cCere)">
<use href="#pCere" fill="none" stroke="#c2cfdb" stroke-width="14" opacity="0.6" filter="url(#blur3)"/>
<g mask="url(#mBlue)">
<rect x="480" y="90" width="180" height="200" fill="#cfe9f7"/>
<use href="#pCere" fill="none" stroke="#8ccaef" stroke-width="32" filter="url(#blur5)"/>
<use href="#pCere" fill="none" stroke="#7ec3ed" stroke-width="13" filter="url(#blur2)" opacity="0.75"/>
</g>
</g>
<g clip-path="url(#cCere)">
<ellipse cx="482" cy="232" rx="92" ry="62" fill="#fdf2a4" opacity="0.95" filter="url(#blur12)"/>
<path d="M404 236 C402 205 440 180 486 178 C530 178 570 195 570 222 C570 240 545 245 520 246 C540 262 540 290 500 300 C460 300 430 280 420 255 Z" fill="#fcea88" opacity="0.85" filter="url(#blur5)"/>
<path d="M428 240 C432 215 455 200 490 198 C520 198 543 208 543 222 C540 236 525 240 510 244 C512 262 500 278 480 282 C455 282 432 266 428 240 Z" fill="#f3ecc6" opacity="0.85" filter="url(#blur3)"/>
</g>
<g clip-path="url(#cCere)">
<g fill="none" stroke="#d0dae3" stroke-width="4" stroke-linecap="round" stroke-linejoin="round" opacity="0.55"><path d="M355.0 215.0 C355.8 210.6 356.7 196.7 360.0 188.7 C363.3 180.7 370.7 172.3 375.0 167.0 C379.3 161.7 382.9 159.2 386.0 157.0 C389.1 154.8 392.4 154.2 393.7 153.6"/><path d="M393.7 153.6 C393.5 154.5 392.5 157.1 392.6 159.0 C392.7 160.9 393.3 163.3 394.5 165.0 C395.7 166.7 397.1 169.2 400.0 169.3 C402.9 169.4 407.5 166.8 412.0 165.8 C416.5 164.9 423.7 163.4 427.0 163.6 C430.3 163.8 430.0 164.8 432.0 167.0 C434.0 169.2 437.8 175.3 439.0 177.0"/><path d="M429.7 150.0 C430.2 151.3 432.1 155.2 432.5 158.0 C432.9 160.8 432.1 165.5 432.0 167.0"/><path d="M375.0 146.9 C377.3 146.3 384.2 144.1 388.7 143.5 C393.2 142.9 397.8 144.9 402.0 143.5 C406.2 142.1 408.8 136.9 413.8 135.0 C418.8 133.1 426.5 131.8 432.0 131.8 C437.5 131.8 444.5 134.5 447.0 135.0"/><path d="M425.0 114.3 C427.8 115.2 437.9 116.5 441.8 120.0 C445.7 123.5 446.3 130.2 448.5 135.0 C450.7 139.8 452.9 144.7 455.0 148.6 C457.1 152.5 460.2 153.6 461.0 158.6 C461.8 163.6 460.2 175.3 460.0 178.7"/><path d="M400.0 126.8 C402.8 125.7 411.7 121.4 416.7 120.0 C421.7 118.6 425.8 118.5 430.0 118.5 C434.2 118.5 439.8 119.8 441.8 120.0"/><path d="M461.0 158.6 C462.5 157.8 468.5 154.4 470.0 153.6"/><path d="M463.6 109.0 C465.0 110.0 469.8 112.0 472.0 115.0 C474.2 118.0 475.9 122.9 477.0 126.8 C478.1 130.7 477.0 134.4 478.7 138.6 C480.4 142.8 484.8 147.8 487.0 152.0 C489.2 156.2 491.3 159.8 492.0 163.7 C492.7 167.6 491.2 173.4 491.0 175.4"/><path d="M492.0 163.7 C493.4 162.0 499.0 155.3 500.4 153.6"/><path d="M490.4 106.8 C489.0 108.2 484.2 111.7 482.0 115.0 C479.8 118.3 477.8 124.8 477.0 126.8"/><path d="M465.0 120.0 C466.4 121.4 472.4 125.7 473.6 128.5 C474.8 131.3 472.3 135.6 472.0 137.0"/><path d="M478.7 135.0 C480.1 133.3 485.6 126.7 487.0 125.0"/><path d="M398.7 168.6 C399.2 170.8 402.6 178.1 402.0 182.0 C401.4 185.9 396.2 190.3 395.0 192.0"/><path d="M390.0 187.0 C390.8 187.8 394.2 191.2 395.0 192.0"/><path d="M377.0 193.7 C377.3 195.7 377.5 201.9 378.6 205.5 C379.7 209.1 382.3 212.0 383.7 215.0 C385.1 218.0 385.1 220.2 387.0 223.5 C388.9 226.8 394.0 233.1 395.4 235.0"/><path d="M415.5 184.5 C416.6 186.0 420.9 192.2 422.0 193.7"/><path d="M338.5 198.8 C339.3 198.0 343.1 195.5 343.5 193.7 C343.9 191.9 341.4 188.9 341.0 188.0"/><path d="M356.9 190.0 C356.3 193.3 353.2 203.9 353.5 210.0 C353.8 216.1 356.4 222.6 358.6 226.8 C360.9 231.0 364.2 231.6 367.0 235.0 C369.8 238.4 371.7 242.5 375.3 247.0 C378.9 251.5 384.6 258.5 388.7 262.0 C392.8 265.5 398.1 267.0 400.0 268.0"/><path d="M367.0 235.0 C365.8 235.8 362.2 237.5 360.0 240.0 C357.8 242.5 356.2 247.7 353.5 250.0 C350.8 252.3 347.1 253.8 343.5 253.6 C339.9 253.4 333.8 249.4 331.8 248.6"/><path d="M353.5 250.0 C352.9 252.6 350.0 261.4 350.0 265.3 C350.0 269.2 352.9 272.3 353.5 273.7"/><path d="M338.5 255.0 C338.1 257.0 336.0 263.3 336.0 267.0 C336.0 270.7 338.4 273.7 338.5 277.0 C338.6 280.3 337.1 285.3 336.8 287.0"/><path d="M321.7 238.5 C322.6 236.0 325.1 227.9 326.8 223.5 C328.5 219.1 329.9 214.3 331.8 211.8 C333.8 209.3 337.4 209.0 338.5 208.4"/><path d="M331.8 211.8 C332.5 213.8 335.3 221.6 336.0 223.5"/><path d="M368.6 270.0 C370.3 270.9 373.6 274.2 378.6 275.4 C383.6 276.6 391.5 277.3 398.7 277.0 C405.9 276.7 415.8 274.5 422.0 273.7 C428.2 272.9 433.7 272.3 436.0 272.0"/><path d="M323.4 268.7 C324.0 270.6 325.2 277.8 326.8 280.4 C328.4 282.9 332.0 283.4 333.0 284.0"/><path d="M368.6 215.0 C370.3 213.9 376.9 209.5 378.6 208.4"/><path d="M363.6 285.4 C365.0 284.3 369.5 280.7 372.0 279.0 C374.5 277.3 377.5 276.0 378.6 275.4"/></g>
<g fill="none" stroke="#a0b2c2" stroke-width="1.3" stroke-linecap="round" stroke-linejoin="round" opacity="0.95"><path d="M355.0 215.0 C355.8 210.6 356.7 196.7 360.0 188.7 C363.3 180.7 370.7 172.3 375.0 167.0 C379.3 161.7 382.9 159.2 386.0 157.0 C389.1 154.8 392.4 154.2 393.7 153.6"/><path d="M393.7 153.6 C393.5 154.5 392.5 157.1 392.6 159.0 C392.7 160.9 393.3 163.3 394.5 165.0 C395.7 166.7 397.1 169.2 400.0 169.3 C402.9 169.4 407.5 166.8 412.0 165.8 C416.5 164.9 423.7 163.4 427.0 163.6 C430.3 163.8 430.0 164.8 432.0 167.0 C434.0 169.2 437.8 175.3 439.0 177.0"/><path d="M429.7 150.0 C430.2 151.3 432.1 155.2 432.5 158.0 C432.9 160.8 432.1 165.5 432.0 167.0"/><path d="M375.0 146.9 C377.3 146.3 384.2 144.1 388.7 143.5 C393.2 142.9 397.8 144.9 402.0 143.5 C406.2 142.1 408.8 136.9 413.8 135.0 C418.8 133.1 426.5 131.8 432.0 131.8 C437.5 131.8 444.5 134.5 447.0 135.0"/><path d="M425.0 114.3 C427.8 115.2 437.9 116.5 441.8 120.0 C445.7 123.5 446.3 130.2 448.5 135.0 C450.7 139.8 452.9 144.7 455.0 148.6 C457.1 152.5 460.2 153.6 461.0 158.6 C461.8 163.6 460.2 175.3 460.0 178.7"/><path d="M400.0 126.8 C402.8 125.7 411.7 121.4 416.7 120.0 C421.7 118.6 425.8 118.5 430.0 118.5 C434.2 118.5 439.8 119.8 441.8 120.0"/><path d="M461.0 158.6 C462.5 157.8 468.5 154.4 470.0 153.6"/><path d="M463.6 109.0 C465.0 110.0 469.8 112.0 472.0 115.0 C474.2 118.0 475.9 122.9 477.0 126.8 C478.1 130.7 477.0 134.4 478.7 138.6 C480.4 142.8 484.8 147.8 487.0 152.0 C489.2 156.2 491.3 159.8 492.0 163.7 C492.7 167.6 491.2 173.4 491.0 175.4"/><path d="M492.0 163.7 C493.4 162.0 499.0 155.3 500.4 153.6"/><path d="M490.4 106.8 C489.0 108.2 484.2 111.7 482.0 115.0 C479.8 118.3 477.8 124.8 477.0 126.8"/><path d="M465.0 120.0 C466.4 121.4 472.4 125.7 473.6 128.5 C474.8 131.3 472.3 135.6 472.0 137.0"/><path d="M478.7 135.0 C480.1 133.3 485.6 126.7 487.0 125.0"/><path d="M398.7 168.6 C399.2 170.8 402.6 178.1 402.0 182.0 C401.4 185.9 396.2 190.3 395.0 192.0"/><path d="M390.0 187.0 C390.8 187.8 394.2 191.2 395.0 192.0"/><path d="M377.0 193.7 C377.3 195.7 377.5 201.9 378.6 205.5 C379.7 209.1 382.3 212.0 383.7 215.0 C385.1 218.0 385.1 220.2 387.0 223.5 C388.9 226.8 394.0 233.1 395.4 235.0"/><path d="M415.5 184.5 C416.6 186.0 420.9 192.2 422.0 193.7"/><path d="M338.5 198.8 C339.3 198.0 343.1 195.5 343.5 193.7 C343.9 191.9 341.4 188.9 341.0 188.0"/><path d="M356.9 190.0 C356.3 193.3 353.2 203.9 353.5 210.0 C353.8 216.1 356.4 222.6 358.6 226.8 C360.9 231.0 364.2 231.6 367.0 235.0 C369.8 238.4 371.7 242.5 375.3 247.0 C378.9 251.5 384.6 258.5 388.7 262.0 C392.8 265.5 398.1 267.0 400.0 268.0"/><path d="M367.0 235.0 C365.8 235.8 362.2 237.5 360.0 240.0 C357.8 242.5 356.2 247.7 353.5 250.0 C350.8 252.3 347.1 253.8 343.5 253.6 C339.9 253.4 333.8 249.4 331.8 248.6"/><path d="M353.5 250.0 C352.9 252.6 350.0 261.4 350.0 265.3 C350.0 269.2 352.9 272.3 353.5 273.7"/><path d="M338.5 255.0 C338.1 257.0 336.0 263.3 336.0 267.0 C336.0 270.7 338.4 273.7 338.5 277.0 C338.6 280.3 337.1 285.3 336.8 287.0"/><path d="M321.7 238.5 C322.6 236.0 325.1 227.9 326.8 223.5 C328.5 219.1 329.9 214.3 331.8 211.8 C333.8 209.3 337.4 209.0 338.5 208.4"/><path d="M331.8 211.8 C332.5 213.8 335.3 221.6 336.0 223.5"/><path d="M368.6 270.0 C370.3 270.9 373.6 274.2 378.6 275.4 C383.6 276.6 391.5 277.3 398.7 277.0 C405.9 276.7 415.8 274.5 422.0 273.7 C428.2 272.9 433.7 272.3 436.0 272.0"/><path d="M323.4 268.7 C324.0 270.6 325.2 277.8 326.8 280.4 C328.4 282.9 332.0 283.4 333.0 284.0"/><path d="M368.6 215.0 C370.3 213.9 376.9 209.5 378.6 208.4"/><path d="M363.6 285.4 C365.0 284.3 369.5 280.7 372.0 279.0 C374.5 277.3 377.5 276.0 378.6 275.4"/></g>
<g fill="none" stroke="#8cc6ee" stroke-width="3.5" stroke-linecap="round" stroke-linejoin="round" opacity="0.5"><path d="M511.8 113.4 C512.3 115.3 510.3 122.8 515.0 125.0 C519.7 127.2 531.0 125.4 540.0 126.8 C549.0 128.2 560.3 130.4 568.7 133.5 C577.1 136.6 584.5 140.4 590.4 145.2 C596.2 149.9 601.0 157.2 603.8 162.0 C606.6 166.8 604.0 171.2 607.0 173.7 C610.0 176.2 618.1 173.9 622.0 177.0 C625.9 180.1 629.4 187.2 630.6 192.0 C631.8 196.8 628.6 200.8 629.0 205.5 C629.4 210.2 632.3 217.6 633.0 220.0"/><path d="M511.8 106.0 C511.8 107.2 512.1 108.8 511.8 113.4 C511.5 118.0 509.2 127.4 510.0 133.5 C510.8 139.6 514.8 144.2 516.8 150.0 C518.8 155.8 521.6 164.6 521.8 168.6 C522.0 172.6 518.6 173.1 518.0 174.0"/><path d="M521.8 150.0 C523.8 148.7 529.5 143.7 533.5 141.9 C537.5 140.1 543.9 139.5 546.0 139.0"/><path d="M547.0 145.2 C547.3 147.4 548.9 155.5 548.6 158.6 C548.3 161.7 547.8 162.5 545.0 163.6 C542.2 164.7 535.7 164.5 531.8 165.3 C527.9 166.1 523.5 168.1 521.8 168.6"/><path d="M568.7 142.7 C570.7 142.8 576.2 141.4 580.4 143.5 C584.6 145.6 590.4 150.9 593.8 155.4 C597.1 159.9 599.1 165.3 600.5 170.3 C601.9 175.3 602.4 180.5 602.0 185.4 C601.6 190.3 598.3 195.1 598.0 200.0 C597.7 204.9 598.5 210.3 600.0 215.0 C601.5 219.7 605.8 225.8 607.0 228.0"/><path d="M577.0 158.6 C576.5 160.0 575.7 164.8 573.7 167.0 C571.8 169.2 566.7 171.2 565.3 172.0"/><path d="M557.0 175.3 C559.0 177.0 564.2 182.1 568.7 185.4 C573.2 188.8 581.2 193.7 583.7 195.4"/><path d="M602.0 172.0 C604.2 172.6 611.3 173.1 615.5 175.3 C619.7 177.5 624.8 182.1 627.0 185.4 C629.2 188.8 629.8 191.5 629.0 195.4 C628.2 199.3 622.5 204.4 622.0 208.8 C621.5 213.2 626.2 217.6 626.0 222.0 C625.8 226.4 623.3 231.0 621.0 235.0 C618.7 239.0 613.5 244.2 612.0 246.0"/><path d="M598.0 200.0 C599.3 201.0 602.8 204.8 606.0 206.0 C609.2 207.2 614.3 206.5 617.0 207.0 C619.7 207.5 621.2 208.5 622.0 208.8"/><path d="M607.0 228.0 C608.2 228.7 611.7 230.8 614.0 232.0 C616.3 233.2 619.8 234.5 621.0 235.0"/><path d="M600.0 215.0 C598.7 216.2 593.8 219.2 592.0 222.0 C590.2 224.8 588.8 228.5 589.0 232.0 C589.2 235.5 590.7 240.0 593.0 243.0 C595.3 246.0 599.3 248.5 603.0 250.0 C606.7 251.5 613.0 251.7 615.0 252.0"/><path d="M575.0 262.0 C576.8 262.3 581.8 264.2 586.0 264.0 C590.2 263.8 595.7 262.7 600.0 261.0 C604.3 259.3 608.3 256.8 612.0 254.0 C615.7 251.2 619.0 247.7 622.0 244.0 C625.0 240.3 628.7 234.0 630.0 232.0"/><path d="M580.0 205.0 C580.8 206.7 584.5 211.7 585.0 215.0 C585.5 218.3 583.3 223.3 583.0 225.0"/><path d="M556.0 200.0 C557.0 201.7 561.0 208.3 562.0 210.0"/></g>
<g fill="none" stroke="#74acd8" stroke-width="1.2" stroke-linecap="round" stroke-linejoin="round" opacity="0.75"><path d="M511.8 113.4 C512.3 115.3 510.3 122.8 515.0 125.0 C519.7 127.2 531.0 125.4 540.0 126.8 C549.0 128.2 560.3 130.4 568.7 133.5 C577.1 136.6 584.5 140.4 590.4 145.2 C596.2 149.9 601.0 157.2 603.8 162.0 C606.6 166.8 604.0 171.2 607.0 173.7 C610.0 176.2 618.1 173.9 622.0 177.0 C625.9 180.1 629.4 187.2 630.6 192.0 C631.8 196.8 628.6 200.8 629.0 205.5 C629.4 210.2 632.3 217.6 633.0 220.0"/><path d="M511.8 106.0 C511.8 107.2 512.1 108.8 511.8 113.4 C511.5 118.0 509.2 127.4 510.0 133.5 C510.8 139.6 514.8 144.2 516.8 150.0 C518.8 155.8 521.6 164.6 521.8 168.6 C522.0 172.6 518.6 173.1 518.0 174.0"/><path d="M521.8 150.0 C523.8 148.7 529.5 143.7 533.5 141.9 C537.5 140.1 543.9 139.5 546.0 139.0"/><path d="M547.0 145.2 C547.3 147.4 548.9 155.5 548.6 158.6 C548.3 161.7 547.8 162.5 545.0 163.6 C542.2 164.7 535.7 164.5 531.8 165.3 C527.9 166.1 523.5 168.1 521.8 168.6"/><path d="M568.7 142.7 C570.7 142.8 576.2 141.4 580.4 143.5 C584.6 145.6 590.4 150.9 593.8 155.4 C597.1 159.9 599.1 165.3 600.5 170.3 C601.9 175.3 602.4 180.5 602.0 185.4 C601.6 190.3 598.3 195.1 598.0 200.0 C597.7 204.9 598.5 210.3 600.0 215.0 C601.5 219.7 605.8 225.8 607.0 228.0"/><path d="M577.0 158.6 C576.5 160.0 575.7 164.8 573.7 167.0 C571.8 169.2 566.7 171.2 565.3 172.0"/><path d="M557.0 175.3 C559.0 177.0 564.2 182.1 568.7 185.4 C573.2 188.8 581.2 193.7 583.7 195.4"/><path d="M602.0 172.0 C604.2 172.6 611.3 173.1 615.5 175.3 C619.7 177.5 624.8 182.1 627.0 185.4 C629.2 188.8 629.8 191.5 629.0 195.4 C628.2 199.3 622.5 204.4 622.0 208.8 C621.5 213.2 626.2 217.6 626.0 222.0 C625.8 226.4 623.3 231.0 621.0 235.0 C618.7 239.0 613.5 244.2 612.0 246.0"/><path d="M598.0 200.0 C599.3 201.0 602.8 204.8 606.0 206.0 C609.2 207.2 614.3 206.5 617.0 207.0 C619.7 207.5 621.2 208.5 622.0 208.8"/><path d="M607.0 228.0 C608.2 228.7 611.7 230.8 614.0 232.0 C616.3 233.2 619.8 234.5 621.0 235.0"/><path d="M600.0 215.0 C598.7 216.2 593.8 219.2 592.0 222.0 C590.2 224.8 588.8 228.5 589.0 232.0 C589.2 235.5 590.7 240.0 593.0 243.0 C595.3 246.0 599.3 248.5 603.0 250.0 C606.7 251.5 613.0 251.7 615.0 252.0"/><path d="M575.0 262.0 C576.8 262.3 581.8 264.2 586.0 264.0 C590.2 263.8 595.7 262.7 600.0 261.0 C604.3 259.3 608.3 256.8 612.0 254.0 C615.7 251.2 619.0 247.7 622.0 244.0 C625.0 240.3 628.7 234.0 630.0 232.0"/><path d="M580.0 205.0 C580.8 206.7 584.5 211.7 585.0 215.0 C585.5 218.3 583.3 223.3 583.0 225.0"/><path d="M556.0 200.0 C557.0 201.7 561.0 208.3 562.0 210.0"/></g>
</g>
<ellipse cx="515" cy="292" rx="30" ry="18" fill="#fcf1ac" opacity="0.9" filter="url(#blur6)"/>
<use href="#pTemp" fill="url(#gTemp)"/>
<g clip-path="url(#cTemp)">
<path d="M520 300 C540 300 558 290 566 270" fill="none" stroke="#b9cad9" stroke-width="1" opacity="0.8"/>
<path d="M548 262 C556 268 560 280 556 292" fill="none" stroke="#c5d3df" stroke-width="1" opacity="0.8"/>
</g>
<path d="M554.0 247.0 C555.0 247.7 557.8 249.7 560.0 251.0 C562.2 252.3 564.7 252.6 567.0 255.0 C569.3 257.4 572.2 261.6 573.6 265.3 C575.0 269.0 575.8 272.8 575.3 277.0 C574.8 281.2 572.8 286.2 570.3 290.4 C567.8 294.6 564.0 298.7 560.0 302.0 C556.0 305.3 551.3 308.0 546.0 310.0 C540.7 312.0 534.0 313.8 528.0 314.0 C522.0 314.2 515.2 312.6 510.0 311.5 C504.8 310.4 500.3 309.0 497.0 307.4 C493.7 305.8 491.2 302.9 490.0 302.0" fill="none" stroke="url(#gTempEdge)" stroke-width="1.8" stroke-linecap="round"/>
<path d="M365.0 300.5 C363.3 301.6 358.9 306.2 355.0 307.0 C351.1 307.8 346.5 307.7 341.8 305.5 C337.1 303.3 330.7 298.6 326.8 293.8 C322.9 289.1 320.2 283.1 318.4 277.0 C316.6 270.9 315.9 264.5 315.9 257.0 C315.9 249.5 317.4 238.1 318.4 231.8 C319.4 225.5 320.9 222.6 322.0 219.0 C323.1 215.4 323.7 213.0 325.0 210.0 C326.3 207.0 328.6 203.4 330.0 201.0 C331.4 198.6 331.8 197.7 333.5 195.4 C335.2 193.1 337.8 190.3 340.0 187.0 C342.2 183.7 345.3 178.6 346.8 175.3 C348.3 172.0 347.9 169.2 349.0 167.0 C350.1 164.8 351.3 164.2 353.5 162.0 C355.7 159.8 358.9 156.4 362.0 154.0 C365.1 151.6 369.7 149.9 372.0 147.7 C374.3 145.5 374.3 142.8 376.0 141.0 C377.7 139.2 379.7 138.5 382.0 136.8 C384.3 135.1 387.2 132.7 390.0 131.0 C392.8 129.3 395.4 128.6 398.7 126.8 C402.0 125.0 406.1 122.0 410.0 120.0 C413.9 118.0 418.7 116.4 422.0 115.0 C425.3 113.6 427.2 112.3 430.0 111.5 C432.8 110.7 435.3 110.8 439.0 110.0 C442.7 109.2 447.7 107.8 452.0 107.0 C456.3 106.2 460.7 105.9 465.0 105.4 C469.3 104.9 473.8 104.0 478.0 103.8 C482.2 103.6 486.2 104.1 490.0 104.2 C493.8 104.3 497.4 104.1 501.0 104.4 C504.6 104.7 510.0 105.7 511.8 105.9" fill="none" stroke="#7a9ab2" stroke-width="2" stroke-linecap="round" stroke-linejoin="round"/>
<use href="#pOutBlue" fill="none" stroke="#4f97cc" stroke-width="1.7" stroke-linecap="round" stroke-linejoin="round"/>
<path d="M355.0 307.0 C356.7 305.9 361.1 303.6 365.0 300.5 C368.9 297.4 373.5 291.9 378.6 288.7 C383.7 285.4 389.8 282.7 395.4 281.0 C401.0 279.3 405.9 278.8 412.0 278.7 C418.1 278.6 426.7 279.6 432.0 280.4 C437.3 281.2 442.0 283.1 444.0 283.7" fill="none" stroke="#97adc0" stroke-width="1.3" stroke-linecap="round"/>
<ellipse cx="466" cy="290" rx="34" ry="12" fill="#fbeb9e" opacity="0.95" filter="url(#blur5)"/>
<ellipse cx="449" cy="297" rx="13" ry="12" fill="#fbd58e" opacity="0.9" filter="url(#blur4)"/>
<path d="M409.9 246.4 C407.1 243.4 402.1 236.5 402.6 230.7 C403.1 224.9 406.4 218.1 413.0 211.8 C419.6 205.5 430.5 198.1 442.3 193.0 C454.1 187.9 470.1 182.9 484.0 181.5 C497.9 180.1 514.1 182.0 526.0 184.6 C537.9 187.2 548.3 192.0 555.3 197.2 C562.3 202.4 566.4 210.4 567.8 216.0 C569.2 221.6 567.1 226.9 563.6 230.7 C560.1 234.5 553.3 237.3 547.0 239.0 C540.7 240.7 530.9 240.1 526.0 241.0 C521.1 241.9 518.6 244.3 517.6 244.3 C516.6 244.3 516.6 242.6 519.7 241.0 C522.8 239.4 532.4 238.4 536.4 234.9 C540.4 231.4 544.1 225.1 543.8 220.2 C543.5 215.3 540.9 209.4 534.4 205.6 C527.9 201.8 515.1 198.2 505.0 197.2 C494.9 196.1 483.1 197.2 473.7 199.3 C464.3 201.4 455.6 204.8 448.6 209.7 C441.6 214.6 435.3 223.4 431.8 228.6 C428.3 233.8 429.8 237.7 427.7 241.0 C425.6 244.3 422.3 247.6 419.3 248.5 C416.3 249.4 412.7 249.4 409.9 246.4Z" fill="#f5e8dc" stroke="#cfb096" stroke-width="1.3" stroke-linejoin="round"/>
<ellipse cx="476.5" cy="234.5" rx="33.5" ry="19.5" fill="url(#gThal)" stroke="#d9cdb0" stroke-width="0.8"/>
<path d="M441 256 C445 252 450 253 451 257 C455 255 459 258 456 262 C460 263 462 267 459 270" fill="none" stroke="#d6bf9e" stroke-width="1"/>
<path d="M462 268 C468 262 478 262 484 268" fill="none" stroke="#dcc9a8" stroke-width="0.9"/>
<path d="M508.5 244.0 C508.2 241.5 509.1 233.5 507.0 229.0 C504.9 224.5 500.8 219.9 496.0 217.0 C491.2 214.1 484.7 212.1 478.0 211.5 C471.3 210.9 462.5 211.1 456.0 213.5 C449.5 215.9 442.9 220.8 439.0 226.0 C435.1 231.2 432.9 239.0 432.5 245.0 C432.1 251.0 433.7 256.8 436.5 262.0 C439.3 267.2 444.2 272.2 449.5 276.0 C454.8 279.8 462.1 282.8 468.0 284.5 C473.9 286.2 482.2 286.2 485.0 286.5" fill="none" stroke="#c9a27e" stroke-width="10.6" stroke-linecap="round"/>
<path d="M508.5 244.0 C508.2 241.5 509.1 233.5 507.0 229.0 C504.9 224.5 500.8 219.9 496.0 217.0 C491.2 214.1 484.7 212.1 478.0 211.5 C471.3 210.9 462.5 211.1 456.0 213.5 C449.5 215.9 442.9 220.8 439.0 226.0 C435.1 231.2 432.9 239.0 432.5 245.0 C432.1 251.0 433.7 256.8 436.5 262.0 C439.3 267.2 444.2 272.2 449.5 276.0 C454.8 279.8 462.1 282.8 468.0 284.5 C473.9 286.2 482.2 286.2 485.0 286.5" fill="none" stroke="#eed6be" stroke-width="8.2" stroke-linecap="round"/>
<path d="M521.8 270.3 C521.6 267.5 518.1 263.7 516.7 260.3 C515.3 256.9 513.4 252.7 513.4 250.0 C513.4 247.3 515.3 245.2 516.7 244.4 C518.1 243.6 521.2 243.5 521.8 245.0 C522.3 246.5 519.7 250.5 520.0 253.6 C520.3 256.7 521.7 260.8 523.4 263.6 C525.1 266.4 527.7 268.8 530.0 270.3 C532.3 271.8 535.5 271.2 537.0 272.5 C538.5 273.8 539.5 276.2 539.3 278.0 C539.1 279.8 537.9 282.2 536.0 283.5 C534.1 284.8 530.6 285.7 528.0 285.6 C525.4 285.5 522.2 284.4 520.5 283.0 C518.8 281.6 517.4 279.1 517.6 277.0 C517.8 274.9 521.9 273.1 521.8 270.3Z" fill="#ecd8c0" stroke="#c8a98a" stroke-width="1.2" stroke-linejoin="round"/>
<ellipse cx="494.6" cy="285" rx="13.4" ry="12.2" fill="url(#gHippo)" stroke="#d8742f" stroke-width="1.3" transform="rotate(-15 494.6 285)"/>
<ellipse cx="443" cy="318" rx="8" ry="30" fill="#f7ceac" opacity="0.9" filter="url(#blur3)"/>
<path d="M448.0 294.5 C447.1 298.2 444.2 309.2 442.3 317.0 C440.4 324.8 438.6 333.7 436.7 341.5 C434.8 349.3 432.9 356.5 431.0 364.0 C429.1 371.5 426.9 380.7 425.4 386.7 C423.9 392.7 423.0 394.4 422.0 400.0 C421.0 405.6 420.1 414.3 419.3 420.0 C418.5 425.7 417.8 431.1 417.4 434.4 C416.9 437.7 416.7 439.1 416.6 440.0 L434.2 440 L434.2 440.0 C434.4 439.1 434.3 438.2 435.2 434.4 C436.1 430.6 438.0 422.7 439.5 417.0 C441.0 411.3 442.5 404.9 444.3 400.0 C446.1 395.1 448.2 391.2 450.3 387.3 C452.4 383.4 454.5 380.0 457.0 376.3 C459.5 372.6 463.4 368.5 465.4 365.3 C467.4 362.1 468.4 359.6 468.8 357.0 C469.2 354.4 468.1 351.2 468.0 350.0 L470 343 L480 320 L470 288 L452 286 Z" fill="url(#gMed)"/>
<ellipse cx="471" cy="326" rx="19" ry="21" fill="#f8913b" filter="url(#blur5)"/>
<path d="M460.0 342.0 C461.1 342.9 464.5 346.3 466.8 347.4 C469.1 348.5 470.9 349.3 473.6 348.8 C476.4 348.3 480.3 347.1 483.3 344.6 C486.3 342.1 489.7 337.7 491.5 333.6 C493.3 329.5 494.6 324.4 494.3 320.0 C494.1 315.6 492.6 310.5 490.0 307.5 C487.4 304.5 482.2 302.8 479.0 302.0 C475.8 301.2 473.3 302.3 471.0 303.0 C468.7 303.7 466.3 305.5 465.4 306.0" fill="none" stroke="url(#gPonsLine)" stroke-width="1.3" stroke-linecap="round"/>
<path d="M448.0 294.5 C447.1 298.2 444.2 309.2 442.3 317.0 C440.4 324.8 438.6 333.7 436.7 341.5 C434.8 349.3 432.9 356.5 431.0 364.0 C429.1 371.5 426.9 380.7 425.4 386.7 C423.9 392.7 422.6 397.8 422.0 400.0 L433.0 392.0 C432.8 391.7 431.4 394.0 432.0 390.0 C432.6 386.0 435.3 374.8 436.7 368.0 C438.1 361.2 438.8 356.6 440.4 349.0 C441.9 341.4 444.1 331.2 446.0 322.7 C447.9 314.2 450.8 302.1 451.7 298.0 Z" fill="#fdeadb" opacity="0.55" filter="url(#blur1)"/>
<path d="M468.0 350.0 C468.1 351.2 469.2 354.4 468.8 357.0 C468.4 359.6 467.4 362.1 465.4 365.3 C463.4 368.5 459.5 372.6 457.0 376.3 C454.5 380.0 452.4 383.4 450.3 387.3 C448.2 391.2 446.1 395.1 444.3 400.0 C442.5 404.9 441.0 411.3 439.5 417.0 C438.0 422.7 436.1 430.6 435.2 434.4 C434.3 438.2 434.4 439.1 434.2 440.0" fill="none" stroke="url(#gMedLine)" stroke-width="1.3" stroke-linecap="round"/>
<path d="M448.0 294.5 C447.1 298.2 444.2 309.2 442.3 317.0 C440.4 324.8 438.6 333.7 436.7 341.5 C434.8 349.3 432.9 356.5 431.0 364.0 C429.1 371.5 426.9 380.7 425.4 386.7 C423.9 392.7 423.0 394.4 422.0 400.0 C421.0 405.6 420.1 414.3 419.3 420.0 C418.5 425.7 417.8 431.1 417.4 434.4 C416.9 437.7 416.7 439.1 416.6 440.0" fill="none" stroke="url(#gStemLine)" stroke-width="1.4" stroke-linecap="round"/>
<path d="M451.7 298.0 C450.8 302.1 447.9 314.2 446.0 322.7 C444.1 331.2 441.9 341.4 440.4 349.0 C438.8 356.6 438.1 361.2 436.7 368.0 C435.3 374.8 432.8 386.3 432.0 390.0" fill="none" stroke="#e2a377" stroke-width="1.1" stroke-linecap="round" opacity="0.8"/>
<use href="#pCereb" fill="url(#gCereb)"/>
<g clip-path="url(#cCereb)" fill="none" stroke-linecap="round">
<g filter="url(#blurS)">
<path d="M430.0 320.3 Q413.3 371.5 426.6 418.2" stroke="#ffffff" stroke-width="1.5" opacity="0.70"/>
<path d="M430.0 320.3 Q408.6 369.8 417.5 417.5" stroke="#b7c6d4" stroke-width="1.0" opacity="0.60"/>
<path d="M430.0 320.3 Q404.1 367.6 408.5 415.9" stroke="#ffffff" stroke-width="1.5" opacity="0.70"/>
<path d="M430.0 320.3 Q399.8 364.9 399.6 413.5" stroke="#b7c6d4" stroke-width="1.0" opacity="0.60"/>
<path d="M430.0 320.3 Q395.8 361.9 391.1 410.2" stroke="#ffffff" stroke-width="1.5" opacity="0.70"/>
<path d="M430.0 320.3 Q392.0 358.5 382.9 406.2" stroke="#b7c6d4" stroke-width="1.0" opacity="0.60"/>
<path d="M430.0 320.3 Q388.6 354.8 375.0 401.4" stroke="#ffffff" stroke-width="1.5" opacity="0.70"/>
<path d="M430.0 320.3 Q385.6 350.8 367.7 396.0" stroke="#b7c6d4" stroke-width="1.0" opacity="0.60"/>
<path d="M430.0 320.3 Q382.9 346.6 360.9 389.8" stroke="#ffffff" stroke-width="1.5" opacity="0.70"/>
<path d="M430.0 320.3 Q380.7 342.0 354.7 383.1" stroke="#b7c6d4" stroke-width="1.0" opacity="0.60"/>
<path d="M430.0 320.3 Q378.9 337.4 349.2 375.8" stroke="#ffffff" stroke-width="1.5" opacity="0.70"/>
<path d="M430.0 320.3 Q377.5 332.5 344.4 368.0" stroke="#b7c6d4" stroke-width="1.0" opacity="0.60"/>
<path d="M430.0 320.3 Q376.6 327.6 340.3 359.8" stroke="#ffffff" stroke-width="1.5" opacity="0.70"/>
<path d="M430.0 320.3 Q376.1 322.5 337.0 351.3" stroke="#b7c6d4" stroke-width="1.0" opacity="0.60"/>
<path d="M430.0 320.3 Q376.2 317.5 334.5 342.5" stroke="#ffffff" stroke-width="1.5" opacity="0.70"/>
<path d="M430.0 320.3 Q376.7 312.5 332.9 333.5" stroke="#b7c6d4" stroke-width="1.0" opacity="0.60"/>
<path d="M430.0 320.3 Q377.6 307.6 332.1 324.4" stroke="#ffffff" stroke-width="1.5" opacity="0.70"/>
<path d="M430.0 320.3 Q379.0 302.7 332.1 315.2" stroke="#b7c6d4" stroke-width="1.0" opacity="0.60"/>
<path d="M430.0 320.3 Q380.9 298.1 333.0 306.1" stroke="#ffffff" stroke-width="1.5" opacity="0.70"/>
<path d="M430.0 320.3 Q383.2 293.6 334.8 297.1" stroke="#b7c6d4" stroke-width="1.0" opacity="0.60"/>
<path d="M430.0 320.3 Q385.9 289.3 337.4 288.4" stroke="#ffffff" stroke-width="1.5" opacity="0.70"/>
<path d="M430.0 320.3 Q389.0 285.4 340.7 279.8" stroke="#b7c6d4" stroke-width="1.0" opacity="0.60"/>
<path d="M430.0 320.3 Q392.4 281.7 344.9 271.7" stroke="#ffffff" stroke-width="1.5" opacity="0.70"/>
<path d="M430.0 320.3 Q396.2 278.3 349.8 264.0" stroke="#b7c6d4" stroke-width="1.0" opacity="0.60"/>
<path d="M430.0 320.3 Q400.2 275.4 355.4 256.7" stroke="#ffffff" stroke-width="1.5" opacity="0.70"/>
<path d="M430.0 320.3 Q404.6 272.8 361.7 250.1" stroke="#b7c6d4" stroke-width="1.0" opacity="0.60"/>
<path d="M430.0 320.3 Q409.1 270.6 368.5 244.0" stroke="#ffffff" stroke-width="1.5" opacity="0.70"/>
<path d="M430.0 320.3 Q413.8 268.9 375.9 238.6" stroke="#b7c6d4" stroke-width="1.0" opacity="0.60"/>
<path d="M430.0 320.3 Q418.7 267.6 383.7 233.9" stroke="#ffffff" stroke-width="1.5" opacity="0.70"/>
<path d="M430.0 320.3 Q423.6 266.8 392.0 230.0" stroke="#b7c6d4" stroke-width="1.0" opacity="0.60"/>
<path d="M430.0 320.3 Q428.7 266.4 400.6 226.8" stroke="#ffffff" stroke-width="1.5" opacity="0.70"/>
<path d="M430.0 320.3 Q433.7 266.5 409.4 224.5" stroke="#b7c6d4" stroke-width="1.0" opacity="0.60"/>
<path d="M430.0 320.3 Q438.7 267.1 418.5 223.0" stroke="#ffffff" stroke-width="1.5" opacity="0.70"/>
<path d="M430.0 320.3 Q443.6 268.1 427.6 222.3" stroke="#b7c6d4" stroke-width="1.0" opacity="0.60"/>
<path d="M430.0 320.3 Q448.4 269.6 436.7 222.5" stroke="#ffffff" stroke-width="1.5" opacity="0.70"/>
<path d="M430.0 320.3 Q453.1 271.6 445.8 223.6" stroke="#b7c6d4" stroke-width="1.0" opacity="0.60"/>
<path d="M430.0 320.3 Q457.5 273.9 454.8 225.5" stroke="#ffffff" stroke-width="1.5" opacity="0.70"/>
<path d="M430.0 320.3 Q461.7 276.7 463.5 228.2" stroke="#b7c6d4" stroke-width="1.0" opacity="0.60"/>
</g>
<circle cx="425.0" cy="320.3" r="13" fill="#fff" opacity="0.8" filter="url(#blur5)" stroke="none"/>
<ellipse cx="446" cy="318" rx="9" ry="34" fill="#f6c6a0" opacity="0.6" filter="url(#blur4)" stroke="none"/>
<path d="M430 320.5 C427 328 425 332 422.9 335.3 C419 341 415 345 410.3 347.8 C404 351.5 398 353.5 392.7 354" stroke="#8da7bd" stroke-width="1.2"/>
</g>
<use href="#pCereb" fill="none" stroke="url(#gCerebOut)" stroke-width="1.6" stroke-linejoin="round"/>
</g>
<path d="M479.5 90.8 C486.2 91.1 504.1 89.9 520.0 92.7 C535.9 95.5 558.2 99.7 575.0 107.6 C591.8 115.5 609.1 128.5 621.0 140.0 C632.9 151.5 640.6 163.7 646.4 176.7 C652.2 189.7 654.0 207.4 655.6 218.0 C657.2 228.6 656.4 231.7 656.0 240.0 C655.6 248.3 654.3 259.7 653.0 268.0 C651.7 276.3 648.8 286.3 648.0 290.0" fill="none" stroke="url(#headFade)" stroke-width="1.5" stroke-linecap="round"/>
<g id="spine-top">
<g mask="url(#mCordPale)"><path d="M428.0 372.0 C427.5 374.3 426.0 381.3 425.0 386.0 C424.0 390.7 423.3 391.9 422.0 400.0 C420.7 408.1 419.1 421.0 417.4 434.4 C415.7 447.8 414.3 465.0 411.6 480.3 C408.9 495.6 404.9 512.0 401.3 526.2 C397.7 540.4 393.1 553.8 389.8 565.3 C386.5 576.8 384.1 583.2 381.5 595.0 C378.9 606.8 376.0 621.4 374.4 635.9 C372.8 650.4 371.6 665.7 372.0 681.8 C372.4 697.9 374.5 717.3 376.7 732.3 C378.9 747.3 381.4 755.5 385.0 772.0 C388.6 788.5 394.8 814.3 398.6 831.5 C402.4 848.7 406.4 867.8 408.0 875.0 L433.0 875.0 C431.2 867.8 426.8 848.7 422.0 831.5 C417.2 814.3 408.5 788.5 404.0 772.0 C399.5 755.5 397.2 747.3 395.0 732.3 C392.8 717.3 390.7 697.9 390.5 681.8 C390.3 665.7 392.1 650.4 394.0 635.9 C395.9 621.4 399.4 606.8 402.0 595.0 C404.6 583.2 406.4 576.8 409.3 565.3 C412.2 553.8 416.4 540.4 419.5 526.2 C422.6 512.0 425.4 495.6 428.0 480.3 C430.6 465.0 432.5 447.8 435.2 434.4 C437.9 421.0 441.7 408.1 444.3 400.0 C446.9 391.9 448.3 390.7 451.0 386.0 C453.7 381.3 458.9 374.3 460.5 372.0 Z" fill="#f5fafc" opacity="0.9"/></g>
<g mask="url(#mStripe)">
<path d="M443.5 352.0 C443.2 353.3 442.8 356.4 442.0 360.0 C441.2 363.6 440.1 367.7 438.7 373.5 C437.3 379.3 435.0 388.9 433.6 395.0 C432.2 401.1 431.4 404.7 430.3 410.0 C429.2 415.3 428.0 421.4 427.0 427.0 C426.0 432.6 425.4 434.9 424.2 443.8 C423.0 452.7 422.1 466.6 419.8 480.3 C417.5 494.0 413.8 512.0 410.4 526.2 C407.0 540.4 402.7 553.8 399.6 565.3 C396.4 576.8 394.3 583.2 391.8 595.0 C389.2 606.8 385.9 621.4 384.2 635.9 C382.4 650.4 381.0 665.7 381.2 681.8 C381.5 697.9 383.6 717.3 385.9 732.3 C388.1 747.3 390.4 755.5 394.5 772.0 C398.6 788.5 406.0 814.3 410.3 831.5 C414.6 848.7 418.8 867.8 420.5 875.0" fill="none" stroke="#bde0f3" stroke-width="6.5"/>
<path d="M444.7 352.0 C444.4 353.3 444.0 356.4 443.2 360.0 C442.4 363.6 441.3 367.7 439.9 373.5 C438.5 379.3 436.2 388.9 434.8 395.0 C433.4 401.1 432.6 404.7 431.5 410.0 C430.4 415.3 429.2 421.4 428.2 427.0 C427.2 432.6 426.6 434.9 425.4 443.8 C424.2 452.7 423.3 466.6 421.0 480.3 C418.7 494.0 415.0 512.0 411.6 526.2 C408.2 540.4 403.9 553.8 400.8 565.3 C397.6 576.8 395.5 583.2 392.9 595.0 C390.4 606.8 387.1 621.4 385.4 635.9 C383.6 650.4 382.2 665.7 382.4 681.8 C382.7 697.9 384.8 717.3 387.1 732.3 C389.3 747.3 391.6 755.5 395.7 772.0 C399.8 788.5 407.2 814.3 411.5 831.5 C415.8 848.7 420.0 867.8 421.7 875.0" fill="none" stroke="#e8f5fb" stroke-width="1.5"/>
<path d="M441.9 352.0 C441.6 353.3 441.2 356.4 440.4 360.0 C439.6 363.6 438.5 367.7 437.1 373.5 C435.7 379.3 433.4 388.9 432.0 395.0 C430.6 401.1 429.8 404.7 428.7 410.0 C427.6 415.3 426.4 421.4 425.4 427.0 C424.4 432.6 423.8 434.9 422.6 443.8 C421.4 452.7 420.5 466.6 418.2 480.3 C415.9 494.0 412.2 512.0 408.8 526.2 C405.4 540.4 401.1 553.8 397.9 565.3 C394.8 576.8 392.7 583.2 390.1 595.0 C387.6 606.8 384.3 621.4 382.6 635.9 C380.8 650.4 379.4 665.7 379.6 681.8 C379.9 697.9 382.0 717.3 384.2 732.3 C386.5 747.3 388.8 755.5 392.9 772.0 C397.0 788.5 404.4 814.3 408.7 831.5 C413.0 848.7 417.2 867.8 418.9 875.0" fill="none" stroke="#a3d2ed" stroke-width="1.1"/>
</g>
<path d="M422.0 400.0 C421.2 405.7 419.1 421.0 417.4 434.4 C415.7 447.8 414.3 465.0 411.6 480.3 C408.9 495.6 404.9 512.0 401.3 526.2 C397.7 540.4 393.1 553.8 389.8 565.3 C386.5 576.8 384.1 583.2 381.5 595.0 C378.9 606.8 376.0 621.4 374.4 635.9 C372.8 650.4 371.6 665.7 372.0 681.8 C372.4 697.9 374.5 717.3 376.7 732.3 C378.9 747.3 381.4 755.5 385.0 772.0 C388.6 788.5 394.8 814.3 398.6 831.5 C402.4 848.7 406.4 867.8 408.0 875.0" fill="none" stroke="#5f829f" stroke-width="1.5"/>
<path d="M444.3 400.0 C442.8 405.7 437.9 421.0 435.2 434.4 C432.5 447.8 430.6 465.0 428.0 480.3 C425.4 495.6 422.6 512.0 419.5 526.2 C416.4 540.4 412.2 553.8 409.3 565.3 C406.4 576.8 404.6 583.2 402.0 595.0 C399.4 606.8 395.9 621.4 394.0 635.9 C392.1 650.4 390.3 665.7 390.5 681.8 C390.7 697.9 392.8 717.3 395.0 732.3 C397.2 747.3 399.5 755.5 404.0 772.0 C408.5 788.5 419.0 821.6 422.0 831.5" fill="none" stroke="#5f829f" stroke-width="1.5"/>
</g>
<g id="ans">
<path d="M601.5 418 L843 418 L843 429.6 L601.5 429.6 A5.8 5.8 0 0 1 601.5 418 Z" fill="url(#gArrow1)"/>
<path d="M840 407 L863 424 L840 440.2 L843.5 429.6 L843.5 418 Z" fill="#4b9fd3" stroke="#3285bb" stroke-width="1.4" stroke-linejoin="round"/>
<rect x="684" y="488.2" width="90" height="12.4" fill="url(#gArrow2)"/>
<path d="M772.5 479 L794.4 494 L772.5 509.4 L774 500.6 L774 488.2 Z" fill="#4b9fd3" stroke="#3285bb" stroke-width="1.4" stroke-linejoin="round"/>
<g transform="translate(620.6 494) rotate(0.0)"><path d="M22 -3.3 L51.8 -3.3 L49.3 -9.4 L66.3 0 L49.3 9.4 L51.8 3.3 L22 3.3" fill="url(#gRay)" stroke="url(#gRayS)" stroke-width="1.4" stroke-linejoin="round"/></g>
<g transform="translate(620.6 494) rotate(180.0)"><path d="M22 -3.3 L52.9 -3.3 L50.4 -9.4 L67.4 0 L50.4 9.4 L52.9 3.3 L22 3.3" fill="url(#gRay)" stroke="url(#gRayS)" stroke-width="1.4" stroke-linejoin="round"/></g>
<g transform="translate(620.6 494) rotate(-39.2)"><path d="M22 -3.3 L49.6 -3.3 L47.1 -9.4 L64.1 0 L47.1 9.4 L49.6 3.3 L22 3.3" fill="url(#gRay)" stroke="url(#gRayS)" stroke-width="1.4" stroke-linejoin="round"/></g>
<g transform="translate(620.6 494) rotate(-141.3)"><path d="M22 -3.3 L50.2 -3.3 L47.7 -9.4 L64.7 0 L47.7 9.4 L50.2 3.3 L22 3.3" fill="url(#gRay)" stroke="url(#gRayS)" stroke-width="1.4" stroke-linejoin="round"/></g>
<g transform="translate(620.6 494) rotate(141.3)"><path d="M22 -3.3 L50.2 -3.3 L47.7 -9.4 L64.7 0 L47.7 9.4 L50.2 3.3 L22 3.3" fill="url(#gRay)" stroke="url(#gRayS)" stroke-width="1.4" stroke-linejoin="round"/></g>
<g transform="translate(620.6 494) rotate(39.2)"><path d="M22 -3.3 L49.6 -3.3 L47.1 -9.4 L64.1 0 L47.1 9.4 L49.6 3.3 L22 3.3" fill="url(#gRay)" stroke="url(#gRayS)" stroke-width="1.4" stroke-linejoin="round"/></g>
<path d="M623.8 440.9 L612.5 457.9 L620 456.4 L616.3 470.5 L628.5 452.6 L621 454.5 Z" fill="#ee7873" stroke="#cf3436" stroke-width="1.3" stroke-linejoin="round"/>
<path d="M623.8 517.6 L612.5 534.5 L620 533.2 L616.3 546.7 L628.5 529.8 L621 531.3 Z" fill="#ee7873" stroke="#cf3436" stroke-width="1.3" stroke-linejoin="round"/>
<circle cx="620.6" cy="494" r="19.8" fill="url(#gSun)" stroke="#c9282c" stroke-width="1.6"/>
<circle cx="844.4" cy="494.4" r="44.2" fill="url(#gSph)"/>
<g clip-path="url(#cSph)" fill="none" stroke-linecap="round">
<path d="M798 483.5 C808 478 818 473 828 473.7 C842 474.7 850 489 864 489.8 C874 490.3 882 485 892 480 L892 493 C882 498.5 874 503 864 502.5 C848 501.5 838 486 823 485.2 C814 484.6 806 490 798 494.5 Z" fill="#d9eef8" stroke="none" opacity="0.85"/>
<path d="M798 494.5 C806 490 814 484.6 823 485.2 C838 486 848 501.5 864 502.5 C874 503 882 498.5 892 493 L892 502 C882 508 873 513.5 862 512.9 C847 512 838 497.6 823 496.7 C814 496 806 502 798 506.5 Z" fill="#b7dcf0" stroke="none" opacity="0.9"/>
<path d="M798 494.5 C806 490 814 484.6 823 485.2 C838 486 848 501.5 864 502.5 C874 503 882 498.5 892 493" stroke="#f0f8fc" stroke-width="1.5" opacity="0.85" transform="translate(0 3.2)"/>
<path d="M798 506.5 C806 502 814 496 823 496.7 C838 497.6 847 512 862 512.9 C873 513.5 882 508 892 502" stroke="#eaf5fb" stroke-width="1.4" opacity="0.8" transform="translate(0 -3.4)"/>
<path d="M798 483.5 C808 478 818 473 828 473.7 C842 474.7 850 489 864 489.8 C874 490.3 882 485 892 480" stroke="#5aa4cc" stroke-width="1.1"/>
<path d="M798 494.5 C806 490 814 484.6 823 485.2 C838 486 848 501.5 864 502.5 C874 503 882 498.5 892 493" stroke="#3a93c5" stroke-width="1.8"/>
<path d="M798 506.5 C806 502 814 496 823 496.7 C838 497.6 847 512 862 512.9 C873 513.5 882 508 892 502" stroke="#2f8bc0" stroke-width="2.4"/>
</g>
<circle cx="844.4" cy="494.4" r="44.2" fill="none" stroke="#2d86ba" stroke-width="1.9"/>
</g>
<g id="labels">
<g stroke="#4f5f68" stroke-width="1.3" fill="none" stroke-linecap="round">
<path d="M606 155 L675 155"/>
<path d="M542 264.4 L675 264.4"/>
<path d="M297.5 375.5 L437.5 375.5"/>
<path d="M390.5 742.3 L480 742.3"/>
<path d="M532.6 278 L574.5 308.7" stroke="#353b41"/>
<path d="M498 287 L552.2 333.6" stroke="#353b41"/>
</g>
<rect x="674.9" y="130.8" width="199.1" height="47.7" rx="6.5" ry="6.5" fill="#fefefe" stroke="#7f949e" stroke-width="1.4"/>
<text x="686.0" y="151.3" font-size="15.0" class="b" textLength="177.3" lengthAdjust="spacingAndGlyphs">PREFRONTAL CORTEX:</text>
<text x="692.0" y="169.8" font-size="15.0" class="r" textLength="165.7" lengthAdjust="spacingAndGlyphs">COGNITIVE CONTROL</text>
<rect x="674.9" y="240.3" width="199.1" height="47.9" rx="6.5" ry="6.5" fill="#fefefe" stroke="#7f949e" stroke-width="1.4"/>
<text x="712.9" y="260.8" font-size="15.0" class="b" textLength="124.4" lengthAdjust="spacingAndGlyphs">LIMBIC SYSTEM:</text>
<text x="684.0" y="279.3" font-size="15.0" class="r" textLength="180.5" lengthAdjust="spacingAndGlyphs">EMOTION REGULATION</text>
<rect x="183.2" y="359.9" width="114.3" height="30.8" rx="6.5" ry="6.5" fill="#fefefe" stroke="#7f949e" stroke-width="1.4"/>
<text x="194.0" y="381.0" font-size="15.0" class="b" textLength="92.7" lengthAdjust="spacingAndGlyphs">BRAINSTEM</text>
<rect x="479.6" y="718.7" width="204.4" height="47.2" rx="6.5" ry="6.5" fill="#fefefe" stroke="#7f949e" stroke-width="1.4"/>
<text x="525.8" y="738.7" font-size="15.0" class="b" textLength="111.9" lengthAdjust="spacingAndGlyphs">SPINAL CORD:</text>
<text x="491.2" y="757.2" font-size="15.0" class="r" textLength="180.8" lengthAdjust="spacingAndGlyphs">SIGNAL TRANSMISSION</text>
<text x="579.4" y="316.7" font-size="15.0" class="r" textLength="88.9" lengthAdjust="spacingAndGlyphs">AMYGDALA</text>
<text x="557.6" y="341.9" font-size="15.0" class="r" textLength="117.3" lengthAdjust="spacingAndGlyphs">HIPPOCAMPUS</text>
<text x="640.0" y="390.8" font-size="15.0" class="b" textLength="180.0" lengthAdjust="spacingAndGlyphs">AUTONOMIC NERVOUS</text>
<text x="674.3" y="409.0" font-size="15.0" class="b" textLength="110.4" lengthAdjust="spacingAndGlyphs">SYSTEM SHIFT</text>
<text x="565.1" y="565.3" font-size="15.0" class="b" textLength="110.9" lengthAdjust="spacingAndGlyphs">SYMPATHETIC</text>
<text x="546.7" y="583.7" font-size="15.0" class="b" textLength="148.1" lengthAdjust="spacingAndGlyphs">NERVOUS SYSTEM:</text>
<text x="547.3" y="602.1" font-size="15.0" class="r" textLength="147.1" lengthAdjust="spacingAndGlyphs">&#8220;FIGHT OR FLIGHT&#8221;</text>
<text x="571.8" y="620.3" font-size="15.0" class="r" textLength="98.3" lengthAdjust="spacingAndGlyphs">(DOMINANT)</text>
<text x="768.0" y="565.3" font-size="15.0" class="b" textLength="153.0" lengthAdjust="spacingAndGlyphs">PARASYMPATHETIC</text>
<text x="775.3" y="583.7" font-size="15.0" class="b" textLength="142.7" lengthAdjust="spacingAndGlyphs">NERVOUS SYSTEM:</text>
<text x="768.0" y="602.1" font-size="15.0" class="r" textLength="153.0" lengthAdjust="spacingAndGlyphs">&#8220;REST AND DIGEST&#8221;</text>
<text x="796.0" y="620.3" font-size="15.0" class="r" textLength="97.7" lengthAdjust="spacingAndGlyphs">(DOMINANT)</text>
</g>
</svg>
</body>
</html>
